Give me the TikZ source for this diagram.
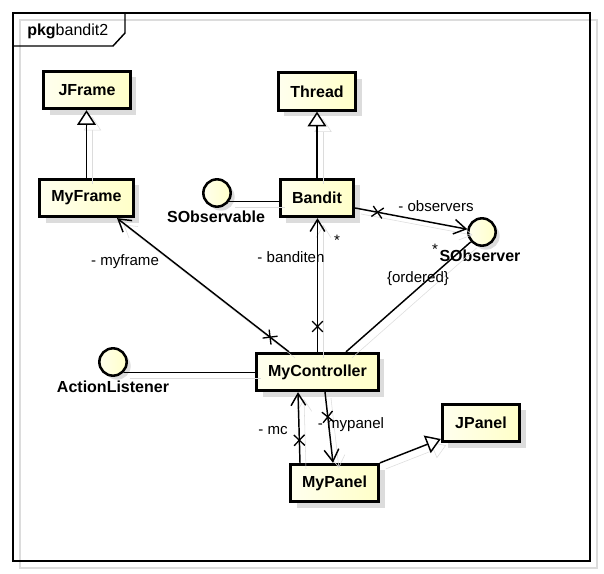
\documentclass[tikz,border=0pt]{standalone}
\usepackage{fontspec}
\setmainfont{Liberation Sans}
\usetikzlibrary{arrows.meta,calc,shapes.misc,shadows}
\definecolor{umllite}{RGB}{255,255,238}
\definecolor{umlyel}{RGB}{255,255,200}
\definecolor{umlshad}{RGB}{220,220,220}

\begin{document}
\begin{tikzpicture}[x=0.75pt,y=-0.75pt,
  cls/.style={draw,line width=2.2pt,left color=umllite,right color=umlyel,
    drop shadow={shadow xshift=4.5pt,shadow yshift=-4.5pt,fill=umlshad,opacity=1},
    minimum height=28pt,inner sep=0pt,font=\fontsize{12}{14}\selectfont\bfseries},
  iface/.style={circle,draw,line width=1.9pt,left color=umllite,right color=umlyel,
    drop shadow={shadow xshift=3pt,shadow yshift=-3pt,fill=umlshad,opacity=1},
    minimum size=20.5pt,inner sep=0pt},
  lbl/.style={inner sep=0pt,font=\fontsize{11.3}{13}\selectfont},
  ilbl/.style={inner sep=0pt,font=\fontsize{12}{14}\selectfont\bfseries},
  conn/.style={line width=1.1pt,preaction={draw=umlshad,transform canvas={shift={(6,6)}}}},
  nav/.style={conn,-{Straight Barb[length=9pt,width=11pt]}},
  gen/.style={conn,-{Triangle[open,length=11pt,width=14pt,fill=white]}},
  xmark/.style={cross out,draw,solid,minimum size=7pt,inner sep=0pt,line width=1pt}
]
  \useasboundingbox[fill=white] (0,0) rectangle (604,574);
  % package frame
  \draw[umlshad,line width=1.4pt] (20,20) rectangle (597,568);
  \draw[line width=1.1pt] (13,13) rectangle (590,561);
  \draw[line width=1.1pt] (13,46) -- (113,46) -- (125,33) -- (125,13);
  \node[anchor=west,inner sep=0pt,font=\fontsize{12}{14}\selectfont] (title) at (27,31) {\textbf{pkg}bandit2};

  % classes
  \node[cls,minimum width=65pt] (jframe) at (87,90) {JFrame};
  \node[cls,minimum width=70pt] (myframe) at (86.5,198) {MyFrame};
  \node[cls,minimum width=58pt] (thread) at (317,91.5) {Thread};
  \node[cls,minimum width=55pt] (bandit) at (317,198) {Bandit};
  \node[cls,minimum width=91pt] (ctrl) at (317.5,372) {MyController};
  \node[cls,minimum width=58pt] (jpanel) at (481,423) {JPanel};
  \node[cls,minimum width=66pt] (mypanel) at (334.5,483) {MyPanel};

  % interfaces
  \node[iface] (sobs) at (217,193) {};
  \node[iface] (sobsr) at (482,232) {};
  \node[iface] (al) at (113,362) {};
  \node[ilbl] (lsobs) at (216,217) {SObservable};
  \node[ilbl] (lsobsr) at (480,256) {SObserver};
  \node[ilbl] (lal) at (113,387) {ActionListener};

  % generalizations
  \draw[gen] (myframe.north) -- (myframe.north |- jframe.south);
  \draw[gen] (bandit.north) -- (thread.south);
  \draw[gen] (mypanel.north east) -- ($(jpanel.west)+(0,16)$);

  % realizations
  \draw[conn] (sobs.-35) -- (sobs.-35 -| bandit.west);
  \draw[conn] (al.-45) -- (al.-45 -| ctrl.west);
  \draw[conn] ($(ctrl.north)+(28.5,0)$) -- (sobsr);

  % associations
  \draw[nav] ($(ctrl.north)+(-28.5,0)$) -- node[pos=.11,sloped,xmark] (x1) {} ($(myframe.south)+(30.5,0)$);
  \draw[nav] (ctrl.north) -- node[pos=.19,sloped,xmark] (x2) {} (ctrl.north |- bandit.south);
  \draw[nav] ($(bandit.east)+(0,10)$) -- node[pos=.2,sloped,xmark] (x3) {} (sobsr);
  \draw[nav] ($(mypanel.north)+(-34.5,0)$) -- node[pos=.32,sloped,xmark] (x4) {} ($(ctrl.south)+(-19.5,0)$);
  \draw[nav] ($(ctrl.south)+(7.5,0)$) -- node[pos=.35,sloped,xmark] (x5) {} ($(mypanel.north)+(-1.5,0)$);

  % role labels
  \node[lbl] (lmyframe) at (125,262) {- myframe};
  \node[lbl] (lbanditen) at (291,257) {- banditen};
  \node[lbl] (lbmult) at (337,240) {*};
  \node[lbl] (lobs) at (436,206) {- observers};
  \node[lbl] (lobsmult) at (435,249) {*};
  \node[lbl] (lordered) at (418,279) {\{ordered\}};
  \node[lbl] (lmc) at (273,431) {- mc};
  \node[lbl] (lmypanel) at (351,425) {- mypanel};
\end{tikzpicture}
\end{document}
